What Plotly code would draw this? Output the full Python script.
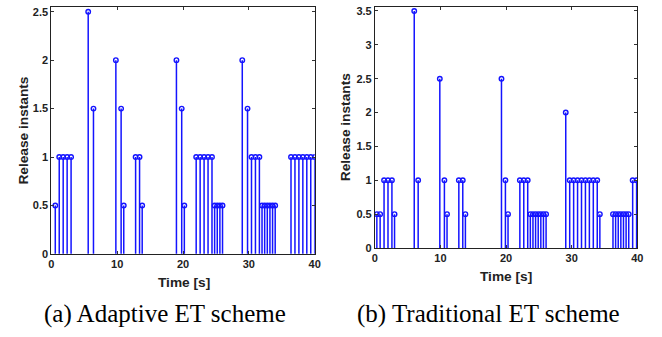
import plotly.graph_objects as go

# Panel (a): Adaptive ET scheme
t_a = [0.6, 1.2, 1.8, 2.4, 3.0, 5.6, 6.4, 9.8, 10.6, 11.0, 12.8, 13.4, 13.8,
       19.0, 19.8, 20.2, 22.0, 22.6, 23.2, 23.8, 24.4, 24.8, 25.2, 25.6, 26.0,
       29.0, 29.8, 30.4, 31.0, 31.6, 32.0, 32.4, 32.8, 33.2, 33.6, 34.0,
       36.4, 37.0, 37.6, 38.2, 38.8, 39.4, 40.0]
y_a = [0.5, 1, 1, 1, 1, 2.5, 1.5, 2, 1.5, 0.5, 1, 1, 0.5,
       2, 1.5, 0.5, 1, 1, 1, 1, 1, 0.5, 0.5, 0.5, 0.5,
       2, 1.5, 1, 1, 1, 0.5, 0.5, 0.5, 0.5, 0.5, 0.5,
       1, 1, 1, 1, 1, 1, 1]

# Panel (b): Traditional ET scheme
t_b = [0.3, 0.8, 1.4, 2.0, 2.6, 3.0, 6.0, 6.6, 9.9, 10.6, 11.0, 12.8, 13.4, 13.8,
       19.3, 19.9, 20.3, 22.1, 22.7, 23.3, 23.7, 24.1, 24.5, 24.9, 25.3, 25.7, 26.1,
       29.1, 29.7, 30.3, 30.9, 31.5, 32.1, 32.7, 33.3, 33.9, 34.3,
       36.3, 36.7, 37.1, 37.5, 37.9, 38.3, 38.7, 39.3, 39.9]
y_b = [0.5, 0.5, 1, 1, 1, 0.5, 3.5, 1, 2.5, 1, 0.5, 1, 1, 0.5,
       2.5, 1, 0.5, 1, 1, 1, 0.5, 0.5, 0.5, 0.5, 0.5, 0.5, 0.5,
       2, 1, 1, 1, 1, 1, 1, 1, 1, 0.5,
       0.5, 0.5, 0.5, 0.5, 0.5, 0.5, 0.5, 1, 1]

x_ticks = [0, 10, 20, 30, 40]
y_ticks_a = [0, 0.5, 1, 1.5, 2, 2.5]
y_ticks_b = [0, 0.5, 1, 1.5, 2, 2.5, 3, 3.5]
y_tick_text_a = ["0", "0.5", "1", "1.5", "2", "2.5"]
y_tick_text_b = ["0", "0.5", "1", "1.5", "2", "2.5", "3", "3.5"]

STEM = "rgb(20,20,255)"

fig = go.Figure()


def add_stems(t, y, xa, ya):
    xs, ys = [], []
    for ti, yi in zip(t, y):
        xs += [ti, ti, None]
        ys += [0, yi, None]
    fig.add_trace(go.Scatter(x=xs, y=ys, mode="lines", xaxis=xa, yaxis=ya,
                             line=dict(color=STEM, width=1.5),
                             hoverinfo="skip", showlegend=False))
    fig.add_trace(go.Scatter(x=t, y=y, mode="markers", xaxis=xa, yaxis=ya,
                             marker=dict(symbol="circle-open", size=4.5,
                                         color=STEM, line=dict(width=1.4, color=STEM)),
                             showlegend=False))


add_stems(t_a, y_a, "x", "y")
add_stems(t_b, y_b, "x2", "y2")

W, H = 662, 337
tickfont = dict(family="Liberation Sans", size=11, color="#222", weight="bold")

common_x = dict(range=[0, 40], tickvals=x_ticks, ticks="inside", ticklen=3,
                tickcolor="#333", showline=True, linecolor="#222", linewidth=1,
                mirror="allticks", showgrid=False, zeroline=False, tickfont=tickfont)
common_y = dict(ticks="inside", ticklen=3, tickcolor="#333", showline=True,
                linecolor="#222", linewidth=1, mirror="allticks", showgrid=False,
                zeroline=False, tickfont=tickfont)

fig.update_layout(
    width=W, height=H, margin=dict(l=0, r=0, t=0, b=0),
    paper_bgcolor="white", plot_bgcolor="white",
    xaxis=dict(domain=[49 / W, 316 / W], anchor="y", **common_x),
    yaxis=dict(domain=[1 - 258 / H, 1 - 5 / H], anchor="x", range=[0, 2.55],
               tickvals=y_ticks_a, ticktext=y_tick_text_a, **common_y),
    xaxis2=dict(domain=[377 / W, 643 / W], anchor="y2", **common_x),
    yaxis2=dict(domain=[1 - 252 / H, 1 - 5 / H], anchor="x2", range=[0, 3.56],
                tickvals=y_ticks_b, ticktext=y_tick_text_b, **common_y),
)

label_font = dict(family="Liberation Sans", size=13.7, color="#222", weight="bold")
cap_font = dict(family="Liberation Serif", size=25, color="black")

ann = [
    dict(text="Release instants", x=21 / W, y=1 - 132 / H, textangle=-90, font=label_font),
    dict(text="Release instants", x=348 / W, y=1 - 128 / H, textangle=-90, font=label_font),
    dict(text="Time [s]", x=183 / W, y=1 - 287 / H, font=label_font),
    dict(text="Time [s]", x=510 / W, y=1 - 281 / H, font=label_font),
    dict(text="(a) Adaptive ET scheme", x=164 / W, y=1 - 320 / H, font=cap_font),
    dict(text="(b) Traditional ET scheme", x=492 / W, y=1 - 320 / H, font=cap_font),
]
for a in ann:
    fig.add_annotation(xref="paper", yref="paper", showarrow=False,
                       xanchor="center", yanchor="middle", **a)

fig.write_html("out.html")
